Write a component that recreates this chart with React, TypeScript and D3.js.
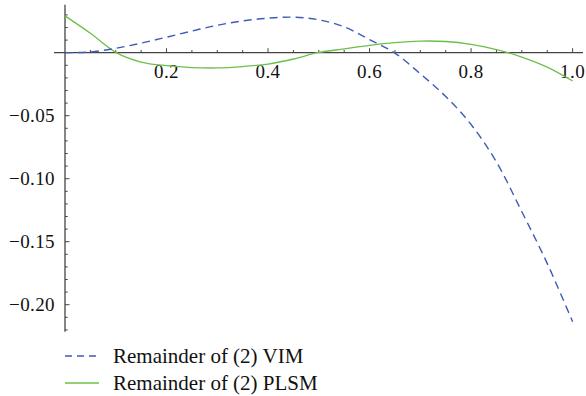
import * as d3 from 'd3';

// x positions of the sampled points
const xs = [0, 0.05, 0.1, 0.15, 0.2, 0.25, 0.3, 0.35, 0.4, 0.45, 0.5, 0.55, 0.6, 0.65, 0.7, 0.75, 0.8, 0.85, 0.9, 0.95, 1.0];

// Remainder of (2) VIM (dashed blue)
const vim = [0, 0.0006, 0.0035, 0.0076, 0.0123, 0.0172, 0.0218, 0.0252, 0.0274, 0.0282, 0.0261, 0.0205, 0.0104, -0.0003, -0.0167, -0.0347, -0.057, -0.0868, -0.1262, -0.1672, -0.2135];

// Remainder of (2) PLSM (solid green)
const plsm = [0.0292, 0.0154, 0.0003, -0.0074, -0.0103, -0.0118, -0.0121, -0.011, -0.009, -0.005, 0.0002, 0.003, 0.0058, 0.008, 0.0092, 0.0089, 0.0066, 0.0025, -0.0035, -0.0115, -0.0225];

const xTicks = [0.2, 0.4, 0.6, 0.8, 1.0];
const xTickLabels = ['0.2', '0.4', '0.6', '0.8', '1.0'];
const yTicks = [-0.05, -0.1, -0.15, -0.2];
const yTickLabels = ['\u22120.05', '\u22120.10', '\u22120.15', '\u22120.20'];

const legendLabels = ['Remainder of (2) VIM', 'Remainder of (2) PLSM'];

const W = 586;
const H = 396;
const BLUE = '#3d5cb6';
const GREEN = '#6cc04a';
const AXIS = '#444';
const FONT = "'Liberation Serif', 'DejaVu Serif', serif";

export default function App() {
  const x = d3.scaleLinear().domain([0, 1]).range([65, 572.6]);
  const y = d3.scaleLinear().domain([0, -0.2]).range([52.7, 304.7]);

  const line = d3
    .line<number>()
    .x((_, i) => x(xs[i]))
    .y((d) => y(d))
    .curve(d3.curveCatmullRom);

  // minor ticks every 0.05 on x, 0.01 on y
  const xMinor = d3.range(1, 21).map((i) => i * 0.05).filter((v) => Math.abs(v * 5 - Math.round(v * 5)) > 1e-6);
  const yMinor = d3.range(-22, 4).map((i) => i * 0.01).filter((v) => Math.abs(v * 20 - Math.round(v * 20)) > 1e-6);

  const textStyle = { fontFamily: FONT };

  return (
    <svg width={W} height={H} style={{ position: 'absolute', left: 0, top: 0, background: '#fff' }}>
      {/* axes */}
      <line x1={54} x2={583} y1={y(0)} y2={y(0)} stroke={AXIS} strokeWidth={1.3} />
      <line x1={x(0)} x2={x(0)} y1={y(0.038)} y2={y(-0.2215)} stroke={AXIS} strokeWidth={1.3} />

      {xTicks.map((t, i) => (
        <g key={'xt' + i}>
          <line x1={x(t)} x2={x(t)} y1={y(0)} y2={y(0) - 4.5} stroke={AXIS} strokeWidth={1} />
          <text x={x(t)} y={78} textAnchor="middle" fontSize={19} letterSpacing={0.4} fill="#111" style={textStyle}>
            {xTickLabels[i]}
          </text>
        </g>
      ))}
      {xMinor.map((t, i) => (
        <line key={'xm' + i} x1={x(t)} x2={x(t)} y1={y(0)} y2={y(0) - 2.7} stroke={AXIS} strokeWidth={1} />
      ))}

      {yTicks.map((t, i) => (
        <g key={'yt' + i}>
          <line x1={x(0)} x2={x(0) + 4.5} y1={y(t)} y2={y(t)} stroke={AXIS} strokeWidth={1} />
          <text x={55} y={y(t)} dy="0.35em" textAnchor="end" fontSize={19} letterSpacing={0.4} fill="#111" style={textStyle}>
            {yTickLabels[i]}
          </text>
        </g>
      ))}
      {yMinor.map((t, i) => (
        <line key={'ym' + i} x1={x(0)} x2={x(0) + 2.7} y1={y(t)} y2={y(t)} stroke={AXIS} strokeWidth={1} />
      ))}

      {/* curves */}
      <path d={line(plsm) ?? ''} fill="none" stroke={GREEN} strokeWidth={1.3} />
      <path d={line(vim) ?? ''} fill="none" stroke={BLUE} strokeWidth={1.4} strokeDasharray="8,5" />

      {/* legend */}
      {legendLabels.map((lab, i) => {
        const ly = 356 + i * 27;
        return (
          <g key={'lg' + i}>
            <line
              x1={65}
              x2={99}
              y1={ly}
              y2={ly}
              stroke={i === 0 ? BLUE : GREEN}
              strokeWidth={1.3}
              strokeDasharray={i === 0 ? '7,5' : undefined}
            />
            <text x={113} y={ly + 6.5} fontSize={21} fill="#111" style={textStyle}>
              {lab}
            </text>
          </g>
        );
      })}
    </svg>
  );
}
